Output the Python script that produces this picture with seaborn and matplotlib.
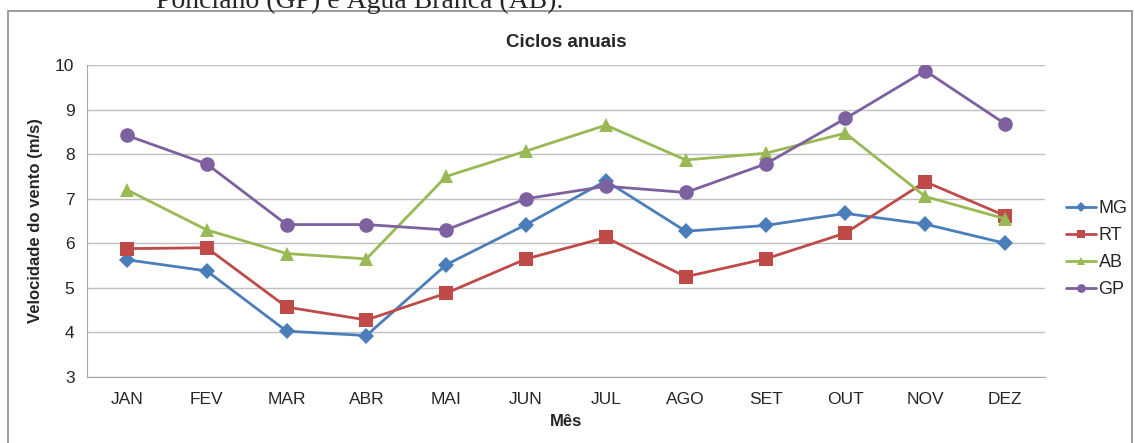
import matplotlib.pyplot as plt
import matplotlib.patches as patches
import pandas as pd
import seaborn as sns

# Data
months = ['JAN', 'FEV', 'MAR', 'ABR', 'MAI', 'JUN', 'JUL', 'AGO', 'SET', 'OUT', 'NOV', 'DEZ']
mg = [5.63, 5.38, 4.03, 3.93, 5.52, 6.42, 7.40, 6.27, 6.40, 6.67, 6.43, 6.00]
rt = [5.88, 5.90, 4.57, 4.28, 4.88, 5.65, 6.13, 5.25, 5.65, 6.23, 7.38, 6.62]
ab = [7.20, 6.30, 5.77, 5.65, 7.50, 8.07, 8.65, 7.87, 8.02, 8.47, 7.05, 6.55]
gp = [8.42, 7.78, 6.42, 6.42, 6.30, 7.00, 7.28, 7.14, 7.78, 8.80, 9.87, 8.68]

series = {'MG': mg, 'RT': rt, 'AB': ab, 'GP': gp}
df = pd.DataFrame([
    {'pos': i, 'mes': m, 'serie': name, 'valor': v}
    for name, vals in series.items()
    for i, (m, v) in enumerate(zip(months, vals))
])

palette = {'MG': '#4A7EBB', 'RT': '#BE4B48', 'AB': '#98B954', 'GP': '#7D60A0'}
markers = {'MG': 'D', 'RT': 's', 'AB': '^', 'GP': 'o'}
msizes = {'MG': 8.5, 'RT': 10.5, 'AB': 10.5, 'GP': 10.5}

sns.set_style('white')
plt.rcParams['font.family'] = ['Liberation Sans', 'DejaVu Sans']

fig = plt.figure(figsize=(11.35, 4.43), dpi=100)
ax = fig.add_axes([87 / 1135, 1 - 377 / 443, (1045 - 87) / 1135, (377 - 65) / 443])

# outer chart frame and cut-off caption from the document
fig.patches.append(patches.Rectangle((8 / 1135, -0.05), 1124 / 1135, 1 - 11 / 443 + 0.05,
                                     transform=fig.transFigure, fill=False,
                                     edgecolor='#8c8c8c', linewidth=1.2))
fig.text(360 / 1135, 1 - 8 / 443, 'Ponciano (GP) e Água Branca (AB).', ha='center',
         va='baseline', fontsize=20, family=['Liberation Serif', 'DejaVu Serif'])

for name in series:
    sub = df[df.serie == name]
    sns.lineplot(data=sub, x='pos', y='valor', ax=ax, color=palette[name],
                 marker=markers[name], markersize=msizes[name], markeredgewidth=0,
                 linewidth=2, label=name)

ax.set_xlim(-0.5, 11.5)
ax.set_ylim(3, 10)
ax.set_xticks(range(len(months)))
ax.set_xticklabels(months, fontsize=12.5)
ax.set_xticks([i + 0.5 for i in range(-1, 12)], minor=True)
ax.tick_params(axis='x', which='major', length=0, pad=11)
ax.tick_params(axis='x', which='minor', length=6, color='#a6a6a6', width=1)
ax.set_yticks(range(3, 11))
ax.tick_params(axis='y', labelsize=12.5, length=5, color='#a6a6a6', width=1, pad=4)
ax.yaxis.grid(True, color='#bfbfbf', linewidth=1)
ax.set_axisbelow(True)
for side in ['top', 'right']:
    ax.spines[side].set_visible(False)
ax.spines['left'].set_color('#a6a6a6')
ax.spines['bottom'].set_color('#a6a6a6')

ax.set_title('Ciclos anuais', fontsize=13.5, fontweight='bold', pad=13)
ax.set_xlabel('Mês', fontsize=12, fontweight='bold', labelpad=5)
ax.set_ylabel('Velocidade do vento (m/s)', fontsize=12, fontweight='bold', labelpad=9)

ax.legend(loc='center left', bbox_to_anchor=(1.022, 0.41), frameon=False, fontsize=13,
          borderpad=0, borderaxespad=0, handlelength=1.65, handletextpad=0.15,
          labelspacing=0.55, markerscale=0.6)

fig.savefig('out.png', dpi=100)
